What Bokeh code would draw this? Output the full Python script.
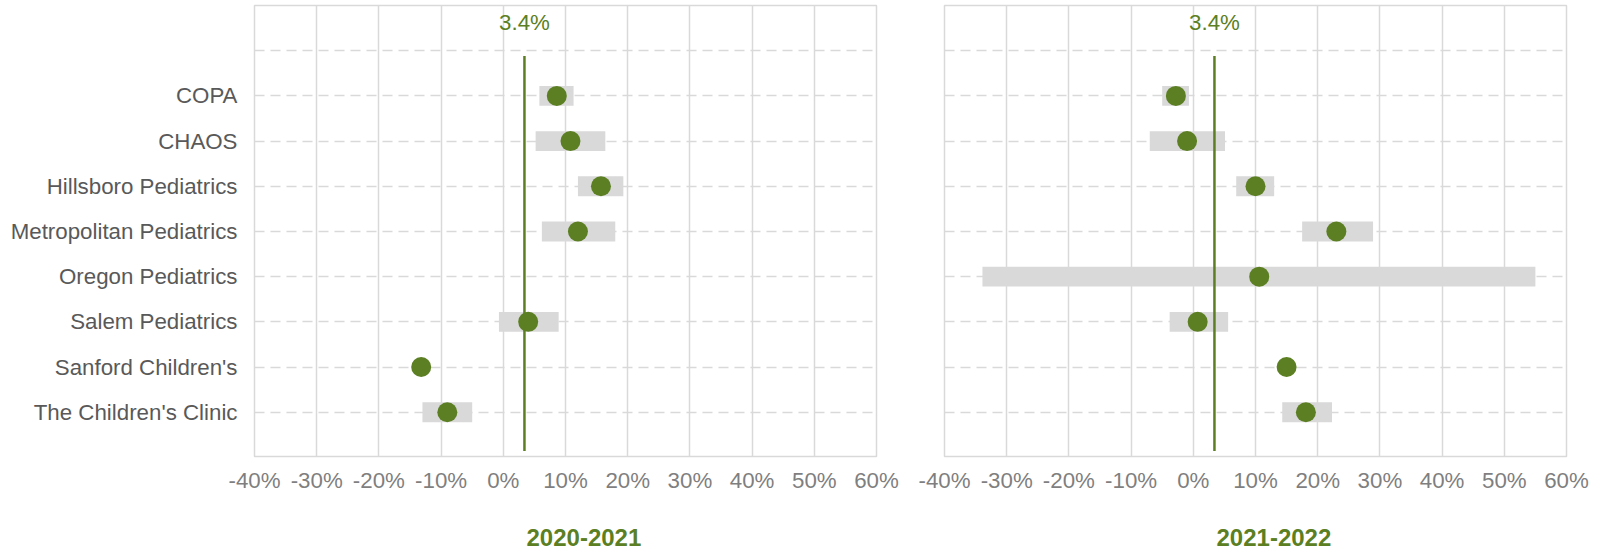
from bokeh.plotting import figure
from bokeh.models import Range1d, FixedTicker, Label, Title
from bokeh.layouts import row
from bokeh.embed import file_html
from bokeh.resources import INLINE

# ---------------- data ----------------
clinics = ["COPA", "CHAOS", "Hillsboro Pediatrics", "Metropolitan Pediatrics",
           "Oregon Pediatrics", "Salem Pediatrics", "Sanford Children's",
           "The Children's Clinic"]

average = 3.4  # percent, shown as vertical reference line

# 2020-2021 (percent); None = not shown
v2021 = [8.6, 10.8, 15.7, 12.0, None, 4.0, -13.2, -9.0]
lo2021 = [5.8, 5.2, 12.0, 6.2, None, -0.7, None, -13.0]
hi2021 = [11.3, 16.4, 19.3, 18.0, None, 8.9, None, -5.0]

# 2021-2022 (percent)
v2022 = [-2.8, -1.0, 10.0, 23.0, 10.6, 0.7, 15.0, 18.1]
lo2022 = [-5.0, -7.0, 6.9, 17.5, -33.9, -3.8, None, 14.3]
hi2022 = [-0.7, 5.1, 13.0, 28.9, 55.0, 5.6, None, 22.3]

periods = ["2020-2021", "2021-2022"]
x_ticks = [-40, -30, -20, -10, 0, 10, 20, 30, 40, 50, 60]

# ---------------- style ----------------
GREEN = "#5b7f22"
GRID = "#d9d9d9"
BAR = "#d9d9d9"
LABEL_GRAY = "#595959"
TICK_GRAY = "#7f7f7f"
FONT = "Liberation Sans"
FS = "22.3px"


def make_panel(vals, lows, highs, title, show_labels):
    p = figure(
        output_backend="svg", toolbar_location=None,
        frame_width=622, frame_height=451,
        min_border_left=254 if show_labels else 34,
        min_border_right=34 if show_labels else 30,
        min_border_top=5, min_border_bottom=96,
        x_range=Range1d(-40, 60), y_range=Range1d(7.98, -2),
    )
    p.outline_line_color = GRID
    p.outline_line_width = 1.5
    p.background_fill_color = "white"
    p.border_fill_color = "white"

    # x axis
    p.xaxis.ticker = FixedTicker(ticks=x_ticks)
    p.xaxis.major_label_overrides = {t: f"{t}%" for t in x_ticks}
    p.xaxis.axis_line_color = None
    p.xaxis.major_tick_line_color = None
    p.xaxis.minor_tick_line_color = None
    p.xaxis.major_tick_out = 0
    p.xaxis.major_tick_in = 0
    p.xaxis.major_label_standoff = 11
    p.xaxis.major_label_text_font = FONT
    p.xaxis.major_label_text_font_size = FS
    p.xaxis.major_label_text_color = TICK_GRAY

    # y axis
    yt = list(range(-1, len(clinics)))
    p.yaxis.ticker = FixedTicker(ticks=yt)
    over = {-1: ""}
    for i, c in enumerate(clinics):
        over[i] = c
    p.yaxis.major_label_overrides = over
    p.yaxis.axis_line_color = None
    p.yaxis.major_tick_line_color = None
    p.yaxis.minor_tick_line_color = None
    p.yaxis.major_tick_out = 0
    p.yaxis.major_tick_in = 0
    p.yaxis.major_label_standoff = 17
    p.yaxis.major_label_text_font = FONT
    p.yaxis.major_label_text_font_size = FS
    p.yaxis.major_label_text_color = LABEL_GRAY
    if not show_labels:
        p.yaxis.visible = False
    p.ygrid.ticker = FixedTicker(ticks=yt)

    p.xgrid.grid_line_color = GRID
    p.xgrid.grid_line_width = 1.5
    p.ygrid.grid_line_color = GRID
    p.ygrid.grid_line_width = 1.5
    p.ygrid.grid_line_dash = "10 6"

    # range bars
    by, bl, br = [], [], []
    for i, (l, h) in enumerate(zip(lows, highs)):
        if l is not None and h is not None:
            by.append(i); bl.append(l); br.append(h)
    p.hbar(y=by, left=bl, right=br, height=0.44, fill_color=BAR, line_color=None)

    # average line
    p.segment(x0=[average], y0=[-0.88], x1=[average], y1=[7.86],
              line_color=GREEN, line_width=2.5)

    # points
    py, px = [], []
    for i, v in enumerate(vals):
        if v is not None:
            py.append(i); px.append(v)
    p.scatter(x=px, y=py, marker="circle", size=20, fill_color=GREEN, line_color=None)

    p.add_layout(Label(x=average, y=-1.62, text=f"{average}%", text_align="center",
                       text_baseline="middle", text_font=FONT,
                       text_font_size=FS, text_color=GREEN))
    p.add_layout(Title(text=title, align="left", offset=272,
                       vertical_align="top", standoff=66,
                       text_font=FONT, text_font_style="bold",
                       text_font_size="24px", text_color=GREEN), "below")
    return p


p1 = make_panel(v2021, lo2021, hi2021, periods[0], True)
p2 = make_panel(v2022, lo2022, hi2022, periods[1], False)
layout = row(p1, p2)

open("out.html", "w").write(file_html(layout, INLINE))
